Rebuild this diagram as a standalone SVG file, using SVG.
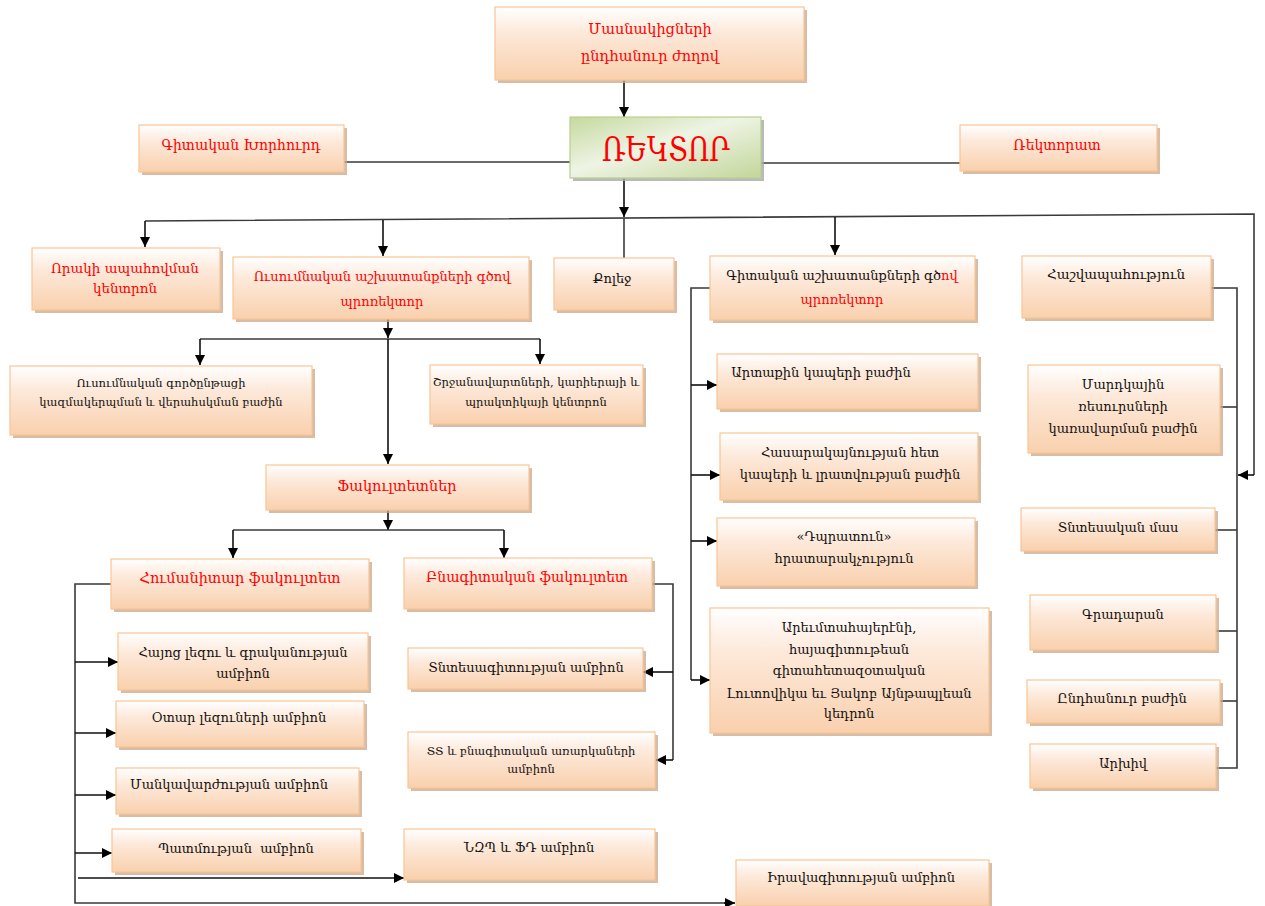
<svg xmlns="http://www.w3.org/2000/svg" width="1265" height="906" viewBox="0 0 1265 906">
<defs>
<linearGradient id="gp" x1="0" y1="0" x2="0" y2="1">
<stop offset="0" stop-color="#ffffff"/>
<stop offset="0.35" stop-color="#fde9da"/>
<stop offset="1" stop-color="#f9d0ad"/>
</linearGradient>
<linearGradient id="gg" x1="0" y1="0" x2="1" y2="1">
<stop offset="0" stop-color="#c5d99f"/>
<stop offset="0.45" stop-color="#eef4e4"/>
<stop offset="1" stop-color="#c2d69a"/>
</linearGradient>
<marker id="ah" markerUnits="userSpaceOnUse" markerWidth="11" markerHeight="10" refX="10" refY="5" orient="auto">
<path d="M0,0 L10,5 L0,10 z" fill="#000"/>
</marker>
<style>
.sh{fill:#c9a689;opacity:0.75}
.bx{fill:url(#gp);stroke:#f8c594;stroke-width:1.2}
.gb{fill:url(#gg);stroke:#b9cf8e;stroke-width:1.2}
.t{font-family:"DejaVu Serif","DejaVu Sans",serif;font-size:13px;text-anchor:middle;fill:#111}
.s{font-size:11.5px}
.r{fill:#ff0000}
.ln{fill:none;stroke:#3a3a3a;stroke-width:1.6}
.ar{fill:none;stroke:#111;stroke-width:1.6;marker-end:url(#ah)}
</style>
</defs>
<rect width="1265" height="906" fill="#ffffff"/>

<g id="connectors">
<line class="ar" x1="624" y1="80" x2="624" y2="117"/>
<line class="ln" x1="344" y1="162" x2="570" y2="162"/>
<line class="ln" x1="761" y1="163" x2="960" y2="163"/>
<line class="ar" x1="624" y1="178" x2="624" y2="217"/>
<line class="ln" x1="624" y1="218" x2="624" y2="258"/>
<path class="ln" d="M145,221 L1254,214 L1254,475"/>
<line class="ar" x1="1254" y1="475" x2="1238" y2="475"/>
<line class="ar" x1="145" y1="221" x2="145" y2="247"/>
<line class="ar" x1="383" y1="220" x2="383" y2="256"/>
<line class="ar" x1="835" y1="217" x2="835" y2="255"/>
<line class="ar" x1="388" y1="319" x2="388" y2="338"/>
<line class="ln" x1="200" y1="339" x2="540" y2="339"/>
<line class="ar" x1="388" y1="339" x2="388" y2="464"/>
<line class="ar" x1="200" y1="339" x2="200" y2="365"/>
<line class="ar" x1="540" y1="339" x2="540" y2="364"/>
<line class="ar" x1="388" y1="510" x2="388" y2="530"/>
<line class="ln" x1="233" y1="530" x2="504" y2="530"/>
<line class="ar" x1="233" y1="530" x2="233" y2="558"/>
<line class="ar" x1="504" y1="530" x2="504" y2="558"/>
<path class="ln" d="M111,584 L75,584 L75,903 L725,903"/>
<line class="ar" x1="724" y1="903" x2="735" y2="903"/>
<line class="ar" x1="75" y1="662" x2="118" y2="662"/>
<line class="ar" x1="75" y1="733" x2="116" y2="733"/>
<line class="ar" x1="75" y1="795" x2="116" y2="795"/>
<line class="ar" x1="75" y1="853" x2="112" y2="853"/>
<line class="ar" x1="78" y1="878" x2="404" y2="878"/>
<path class="ln" d="M652,584 L673,584 L673,760"/>
<line class="ar" x1="673" y1="760" x2="656" y2="760"/>
<line class="ar" x1="673" y1="672" x2="643" y2="672"/>
<path class="ln" d="M710,288 L691,288 L691,680"/>
<line class="ar" x1="691" y1="680" x2="710" y2="680"/>
<line class="ar" x1="691" y1="385" x2="717" y2="385"/>
<line class="ar" x1="691" y1="475" x2="720" y2="475"/>
<line class="ar" x1="691" y1="541" x2="717" y2="541"/>
<path class="ln" d="M1211,288 L1237,288 L1237,768 L1216,768"/>
<line class="ln" x1="1220" y1="407" x2="1237" y2="407"/>
<line class="ln" x1="1215" y1="530" x2="1237" y2="530"/>
<line class="ln" x1="1216" y1="631" x2="1237" y2="631"/>
<line class="ln" x1="1220" y1="701" x2="1237" y2="701"/>
</g>

<g id="n-assembly">
<rect class="sh" x="498" y="10" width="309" height="73"/>
<rect class="bx" x="495" y="7" width="309" height="73"/>
<text class="t r" x="650" y="34" style="font-size:14.5px">Մասնակիցների</text>
<text class="t r" x="650" y="61" style="font-size:14.5px">ընդհանուր ժողով</text>
</g>

<g id="n-rector">
<rect x="573" y="120" width="191" height="61" fill="#a9a9a9" opacity="0.8"/>
<rect class="gb" x="570" y="117" width="191" height="61"/>
<text class="t r" x="666" y="161" style="font-size:33px" textLength="128" lengthAdjust="spacingAndGlyphs">ՌԵԿՏՈՐ</text>
</g>

<g id="n-scicouncil">
<rect class="sh" x="142" y="128" width="205" height="47"/>
<rect class="bx" x="139" y="125" width="205" height="47"/>
<text class="t r" x="241" y="150" style="font-size:14px">Գիտական Խորհուրդ</text>
</g>

<g id="n-rectorate">
<rect class="sh" x="963" y="128" width="197" height="46"/>
<rect class="bx" x="960" y="125" width="197" height="46"/>
<text class="t r" x="1057" y="150" style="font-size:14px">Ռեկտորատ</text>
</g>

<g id="n-quality">
<rect class="sh" x="35" y="251" width="188" height="62"/>
<rect class="bx" x="32" y="248" width="188" height="62"/>
<text class="t r" x="125" y="273" style="font-size:13.5px">Որակի ապահովման</text>
<text class="t r" x="125" y="293" style="font-size:13.5px">կենտրոն</text>
</g>

<g id="n-edu-prorector">
<rect class="sh" x="236" y="260" width="296" height="62"/>
<rect class="bx" x="233" y="257" width="296" height="62"/>
<text class="t r" x="382" y="281">Ուսումնական աշխատանքների գծով</text>
<text class="t r" x="382" y="306">պրոռեկտոր</text>
</g>

<g id="n-college">
<rect class="sh" x="557" y="261" width="120" height="52"/>
<rect class="bx" x="554" y="258" width="120" height="52"/>
<text class="t" x="612" y="283">Քոլեջ</text>
</g>

<g id="n-sci-prorector">
<rect class="sh" x="713" y="259" width="265" height="64"/>
<rect class="bx" x="710" y="256" width="265" height="64"/>
<text class="t" x="842" y="280">Գիտական աշխատանքների գծ<tspan class="r">ով</tspan></text>
<text class="t r" x="842" y="304">պրոռեկտոր</text>
</g>

<g id="n-accounting">
<rect class="sh" x="1025" y="259" width="189" height="62"/>
<rect class="bx" x="1022" y="256" width="189" height="62"/>
<text class="t" x="1116" y="279" style="font-size:13.5px">Հաշվապահություն</text>
</g>

<g id="n-eduprocess">
<rect class="sh" x="13" y="369" width="302" height="69"/>
<rect class="bx" x="10" y="366" width="302" height="69"/>
<text class="t s" x="161" y="387">Ուսումնական գործընթացի</text>
<text class="t s" x="161" y="406">կազմակերպման և վերահսկման բաժին</text>
</g>

<g id="n-alumni">
<rect class="sh" x="433" y="368" width="213" height="59"/>
<rect class="bx" x="430" y="365" width="213" height="59"/>
<text class="t s" x="536" y="386">Շրջանավարտների, կարիերայի և</text>
<text class="t s" x="536" y="406">պրակտիկայի կենտրոն</text>
</g>

<g id="n-faculties">
<rect class="sh" x="269" y="468" width="263" height="45"/>
<rect class="bx" x="266" y="465" width="263" height="45"/>
<text class="t r" x="397" y="491" style="font-size:14.5px">Ֆակուլտետներ</text>
</g>

<g id="n-humanities">
<rect class="sh" x="114" y="562" width="258" height="50"/>
<rect class="bx" x="111" y="559" width="258" height="50"/>
<text class="t r" x="240" y="583" style="font-size:14.5px">Հումանիտար ֆակուլտետ</text>
</g>

<g id="n-natural">
<rect class="sh" x="407" y="561" width="248" height="51"/>
<rect class="bx" x="404" y="558" width="248" height="51"/>
<text class="t r" x="527" y="582" style="font-size:14px">Բնագիտական ֆակուլտետ</text>
</g>

<g id="n-armenian">
<rect class="sh" x="121" y="636" width="250" height="57"/>
<rect class="bx" x="118" y="633" width="250" height="57"/>
<text class="t" x="243" y="657">Հայոց լեզու և գրականության</text>
<text class="t" x="243" y="678">ամբիոն</text>
</g>

<g id="n-foreign">
<rect class="sh" x="119" y="704" width="248" height="46"/>
<rect class="bx" x="116" y="701" width="248" height="46"/>
<text class="t" x="239" y="722">Օտար լեզուների ամբիոն</text>
</g>

<g id="n-pedagogy">
<rect class="sh" x="119" y="771" width="243" height="46"/>
<rect class="bx" x="116" y="768" width="243" height="46"/>
<text class="t" x="229" y="789">Մանկավարժության ամբիոն</text>
</g>

<g id="n-history">
<rect class="sh" x="115" y="832" width="249" height="43"/>
<rect class="bx" x="112" y="829" width="249" height="43"/>
<text class="t" x="236" y="853" xml:space="preserve">Պատմության  ամբիոն</text>
</g>

<g id="n-economics">
<rect class="sh" x="411" y="651" width="235" height="41"/>
<rect class="bx" x="408" y="648" width="235" height="41"/>
<text class="t" x="526" y="672">Տնտեսագիտության ամբիոն</text>
</g>

<g id="n-it">
<rect class="sh" x="411" y="735" width="247" height="56"/>
<rect class="bx" x="408" y="732" width="247" height="56"/>
<text class="t s" x="531" y="755">ՏՏ և բնագիտական առարկաների</text>
<text class="t s" x="531" y="773">ամբիոն</text>
</g>

<g id="n-nzp">
<rect class="sh" x="407" y="832" width="251" height="51"/>
<rect class="bx" x="404" y="829" width="251" height="51"/>
<text class="t" x="529" y="852">ՆԶՊ և ՖԴ ամբիոն</text>
</g>

<g id="n-law">
<rect class="sh" x="739" y="863" width="253" height="46"/>
<rect class="bx" x="736" y="860" width="253" height="46"/>
<text class="t" x="861" y="882">Իրավագիտության ամբիոն</text>
</g>

<g id="n-foreignrel">
<rect class="sh" x="720" y="357" width="261" height="55"/>
<rect class="bx" x="717" y="354" width="261" height="55"/>
<text class="t" x="821" y="377">Արտաքին կապերի բաժին</text>
</g>

<g id="n-pr">
<rect class="sh" x="723" y="436" width="258" height="67"/>
<rect class="bx" x="720" y="433" width="258" height="67"/>
<text class="t" x="850" y="457">Հասարակայնության հետ</text>
<text class="t" x="850" y="479">կապերի և լրատվության բաժին</text>
</g>

<g id="n-dpratun">
<rect class="sh" x="720" y="521" width="258" height="68"/>
<rect class="bx" x="717" y="518" width="258" height="68"/>
<text class="t" x="844" y="541">«Դպրատուն»</text>
<text class="t" x="844" y="563">հրատարակչություն</text>
</g>

<g id="n-westarm">
<rect class="sh" x="713" y="611" width="279" height="125"/>
<rect class="bx" x="710" y="608" width="279" height="125"/>
<text class="t" x="849" y="632">Արեւմտահայերէնի,</text>
<text class="t" x="849" y="654">հայագիտութեան</text>
<text class="t" x="849" y="675">գիտահետազօտական</text>
<text class="t" x="849" y="698">Լուտովիկա եւ Յակոբ Այնթապլեան</text>
<text class="t" x="849" y="718">կեդրոն</text>
</g>

<g id="n-hr">
<rect class="sh" x="1031" y="368" width="192" height="88"/>
<rect class="bx" x="1028" y="365" width="192" height="88"/>
<text class="t" x="1123" y="389">Մարդկային</text>
<text class="t" x="1123" y="411">ռեսուրսների</text>
<text class="t" x="1123" y="433">կառավարման բաժին</text>
</g>

<g id="n-household">
<rect class="sh" x="1024" y="511" width="194" height="43"/>
<rect class="bx" x="1021" y="508" width="194" height="43"/>
<text class="t" x="1118" y="532">Տնտեսական մաս</text>
</g>

<g id="n-library">
<rect class="sh" x="1033" y="598" width="186" height="55"/>
<rect class="bx" x="1030" y="595" width="186" height="55"/>
<text class="t" x="1123" y="619">Գրադարան</text>
</g>

<g id="n-general">
<rect class="sh" x="1030" y="683" width="193" height="43"/>
<rect class="bx" x="1027" y="680" width="193" height="43"/>
<text class="t" x="1122" y="703">Ընդհանուր բաժին</text>
</g>

<g id="n-archive">
<rect class="sh" x="1033" y="747" width="186" height="44"/>
<rect class="bx" x="1030" y="744" width="186" height="44"/>
<text class="t" x="1123" y="768">Արխիվ</text>
</g>
</svg>
